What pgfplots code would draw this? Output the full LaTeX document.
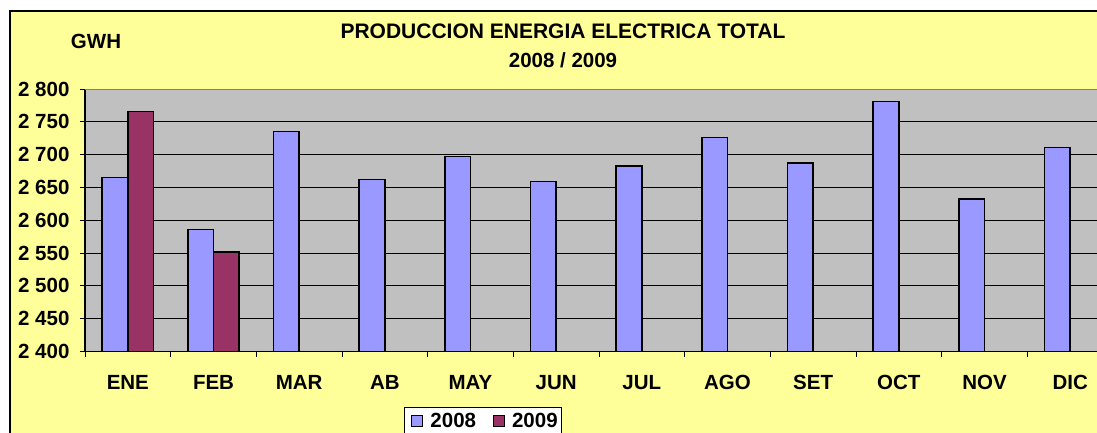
\documentclass[border=0pt]{standalone}
\usepackage{pgfplots}
\pgfplotsset{compat=1.18}
\usepackage{fontspec}
\setmainfont{Liberation Sans}
\definecolor{bgyellow}{HTML}{FFFF99}
\definecolor{plotgray}{HTML}{C0C0C0}
\definecolor{blueb}{HTML}{9999FF}
\definecolor{purpleb}{HTML}{993366}
\begin{document}
\begin{tikzpicture}[font=\fontsize{20.5}{24}\selectfont\bfseries]
\fill[white] (0,0) rectangle (1097pt,432pt);
\draw[fill=bgyellow, line width=1.2pt] (10pt,-30pt) rectangle (1130pt,421pt);
\node at (563pt,400.5pt) {\fontsize{21}{24}\selectfont PRODUCCION ENERGIA ELECTRICA TOTAL};
\node at (563pt,372pt) {2008 / 2009};
\node at (96pt,391pt) {GWH};
\begin{axis}[
  at={(85pt,80.5pt)}, anchor=south west,
  scale only axis, width=1028pt, height=262.5pt,
  xmin=-0.5, xmax=11.5, ymin=2400, ymax=2800,
  ybar, bar width=0.3,
  axis background/.style={fill=plotgray},
  axis x line*=bottom, axis y line*=left,
  ytick={2400,2450,...,2800},
  yticklabels={2 400,2 450,2 500,2 550,2 600,2 650,2 700,2 750,2 800},
  xtick={0,...,11},
  xticklabels={ENE,FEB,MAR,AB,MAY,JUN,JUL,AGO,SET,OCT,NOV,DIC},
  minor xtick={-0.5,0.5,...,11.5},
  major x tick style={draw=none},
  tick align=outside,
  major tick length=5pt, minor tick length=5pt,
  tick style={black, line width=1pt},
  ymajorgrids, major grid style={black, line width=1pt},
  axis line style={black, line width=1.2pt},
  yticklabel style={font=\fontsize{20.5}{24}\selectfont\bfseries, anchor=east, xshift=-7pt},
  xticklabel style={font=\fontsize{20.5}{24}\selectfont\bfseries, yshift=-15pt},
  legend columns=2,
  legend style={at={(0.3103,-0.211)}, anchor=north west, draw=black, line width=1pt,
    fill=white, font=\fontsize{20.5}{24}\selectfont\bfseries,
    inner xsep=2pt, inner ysep=4pt,
    /tikz/every even column/.append style={column sep=10pt}},
  legend image code/.code={\path[draw=none, fill=none] (0pt,0pt) -- (22pt,0pt);
    \draw[#1, draw=black, line width=1pt] (5pt,-5.5pt) rectangle (16pt,5.5pt);},
]
\addplot[fill=blueb, draw=black, line width=1.6pt, bar shift=-0.15] coordinates {
(0,2665) (1,2586) (2,2735) (3,2662) (4,2697) (5,2659)
(6,2683) (7,2726) (8,2687) (9,2781) (10,2632) (11,2711)};
\addplot[fill=purpleb, draw=black, line width=1.6pt, bar shift=0.15] coordinates {
(0,2766) (1,2552)};
\legend{2008,2009}
\draw[color=gray, line width=1.5pt] (rel axis cs:0,1) -- (rel axis cs:1,1);
\end{axis}
\pgfresetboundingbox
\path[use as bounding box] (0,0) rectangle (1097pt,432pt);
\end{tikzpicture}
\end{document}
